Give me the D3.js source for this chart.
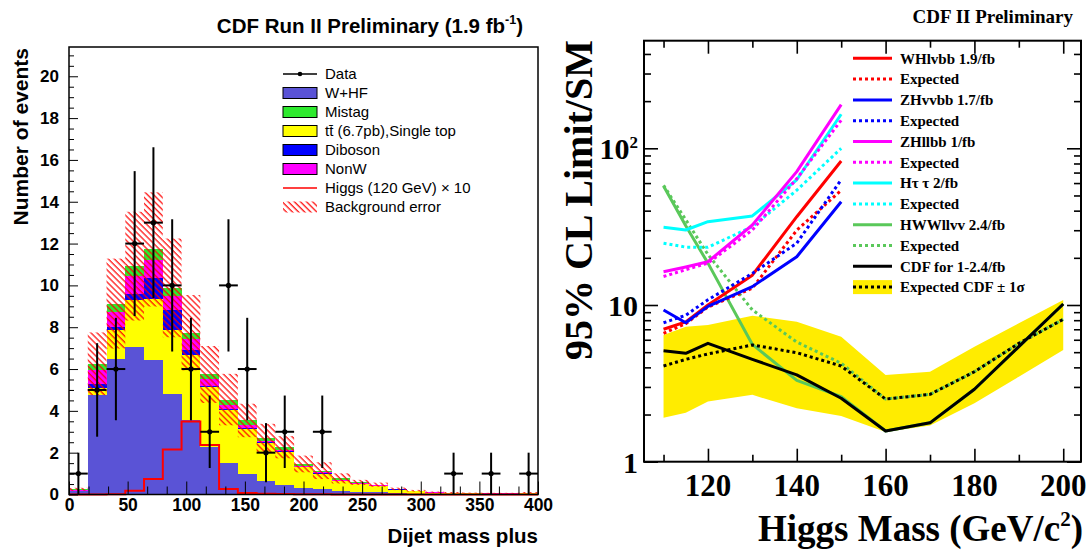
<!DOCTYPE html>
<html>
<head>
<meta charset="utf-8">
<script src="https://cdn.jsdelivr.net/npm/d3@7"></script>
<style>
  body { margin: 0; background: #fff; }
  svg { display: block; }
  .sans { font-family: "Liberation Sans", Arial, Helvetica, sans-serif; }
  .serif { font-family: "Liberation Serif", "Times New Roman", serif; }
</style>
</head>
<body>
<svg id="chart" width="1088" height="550"></svg>
<script>
// ---------------- Left panel: dijet mass distribution ----------------
const binWidth = 16;
const binLow = [0, 16, 32, 48, 64, 80, 96, 112, 128, 144, 160, 176, 192, 208, 224, 240, 256, 272, 288, 304, 320, 336, 352, 368, 384];

// stacked background contributions (events per bin)
const wHF      = [0.15, 4.78, 6.49, 7.05, 6.44, 4.82, 3.54, 2.26, 1.51, 0.98, 0.66, 0.47, 0.30, 0.26, 0.18, 0.10, 0.10, 0.05, 0.04, 0.03, 0.02, 0.02, 0.01, 0.01, 0.01];
const topPair  = [0.03, 0.32, 1.36, 2.24, 2.89, 3.06, 3.11, 2.88, 2.54, 2.16, 1.79, 1.55, 1.00, 0.74, 0.46, 0.40, 0.32, 0.17, 0.11, 0.05, 0.03, 0.03, 0.03, 0.03, 0.04];
const diboson  = [0.01, 0.20, 0.16, 0.28, 1.00, 0.93, 0.24, 0.06, 0.05, 0.04, 0.05, 0.04, 0.03, 0.02, 0.02, 0.02, 0.01, 0.03, 0.01, 0.01, 0.01, 0.01, 0.00, 0.00, 0.01];
const nonW     = [0.02, 0.63, 0.72, 0.87, 0.87, 0.67, 0.53, 0.30, 0.19, 0.15, 0.08, 0.07, 0.05, 0.04, 0.04, 0.03, 0.02, 0.01, 0.01, 0.01, 0.01, 0.00, 0.01, 0.01, 0.01];
const mistag   = [0.04, 0.32, 0.40, 0.48, 0.52, 0.40, 0.32, 0.24, 0.25, 0.21, 0.13, 0.13, 0.08, 0.08, 0.07, 0.03, 0.02, 0.01, 0.01, 0.01, 0.02, 0.01, 0.01, 0.01, 0.02];
const bkgError = [0.07, 1.50, 2.15, 2.60, 2.73, 2.36, 1.80, 1.36, 1.23, 0.80, 0.67, 0.53, 0.40, 0.40, 0.24, 0.12, 0.10, 0.06, 0.04, 0.03, 0.03, 0.02, 0.02, 0.02, 0.03];
const higgsX10 = [0, 0, 0.01, 0.18, 0.74, 2.15, 3.49, 2.37, 0.26, 0.07, 0.03, 0.02, 0.01, 0.01, 0, 0, 0, 0, 0, 0, 0, 0, 0, 0, 0];
const dataCounts = [1, 5, 6, 12, 13, 10, 6, 3, 10, 6, 2, 3, 0, 3, 0, 0, 0, 0, 0, 0, 1, 0, 1, 0, 1];

const leftXTicks = [0, 50, 100, 150, 200, 250, 300, 350, 400];
const leftYTicks = [0, 2, 4, 6, 8, 10, 12, 14, 16, 18, 20];

const stackKeys   = ["wHF", "topPair", "diboson", "nonW", "mistag"];
const stackColors = ["#5a53d6", "#ffff00", "#0000ff", "#ff00ff", "#2eea2e"];

// ---------------- Right panel: 95% CL limits ----------------
const lowMass   = [110, 115, 120, 130, 140, 150];
const whObs     = [7.0, 7.8, 10.0, 15.5, 36.6, 83];
const whExp     = [6.6, 7.6, 9.7, 12.8, 30.0, 54];
const zhvvObs   = [9.3, 7.7, 9.8, 13.1, 20.3, 45.6];
const zhvvExp   = [7.7, 8.6, 10.8, 15.9, 24.8, 63];
const zhllObs   = [16.3, 17.5, 18.9, 32.4, 71, 190];
const zhllExp   = [15.2, 16.8, 18.5, 30.1, 64, 151];
const httObs    = [31.3, 30.1, 34.0, 37.0, 63, 165];
const httExp    = [24.8, 23.4, 23.4, 31.6, 54, 100];

const fullMass  = [110, 115, 120, 130, 140, 150, 160, 170, 180, 190, 200];
const hwwObs    = [57.5, 32, 18.5, 5.6, 3.3, 2.6, 1.57, 1.77, 2.90, 5.42, 10.15];
const hwwExp    = [58, 35, 21, 9.3, 5.8, 4.25, 2.51, 2.69, 3.75, 5.69, 8.10];
const cdfObs    = [5.11, 4.92, 5.69, 4.50, 3.58, 2.54, 1.57, 1.77, 2.90, 5.42, 10.15];
const cdfExp    = [4.08, 4.50, 4.87, 5.56, 4.96, 4.08, 2.51, 2.69, 3.75, 5.69, 8.10];
const cdfExpLo  = [1.91, 2.05, 2.42, 2.67, 2.19, 1.96, 1.55, 1.70, 2.36, 3.49, 5.16];
const cdfExpHi  = [6.44, 7.27, 7.45, 8.55, 7.83, 6.28, 3.58, 3.75, 5.42, 7.64, 10.76];

const rightXTicks = [120, 140, 160, 180, 200];
const rightXMinor = [110, 130, 150, 170, 190];
const rightYTicks = [1, 10, 100];

// =====================================================================
const svg = d3.select("#chart");
const defs = svg.append("defs");

// red "\\\" hatching for the background uncertainty
const hatch = defs.append("pattern")
  .attr("id", "bkgHatch")
  .attr("patternUnits", "userSpaceOnUse")
  .attr("width", 4.3).attr("height", 4.3)
  .attr("patternTransform", "rotate(-45)");
hatch.append("line")
  .attr("x1", 1).attr("y1", 0).attr("x2", 1).attr("y2", 4.3)
  .attr("stroke", "#ff0000").attr("stroke-width", 1.2);

// ---------------- left panel ----------------
const xL = d3.scaleLinear().domain([0, 400]).range([69, 538]);
const yL = d3.scaleLinear().domain([0, 21.4]).range([494.5, 47]);
const left = svg.append("g").attr("class", "sans");

const rows = binLow.map((lo, i) => ({
  lo, wHF: wHF[i], topPair: topPair[i], diboson: diboson[i], nonW: nonW[i], mistag: mistag[i]
}));
const stacked = d3.stack().keys(stackKeys)(rows);

stacked.forEach((layer, k) => {
  left.append("g").attr("shape-rendering", "crispEdges")
    .selectAll("rect").data(layer).join("rect")
    .attr("x", d => xL(d.data.lo))
    .attr("width", d => xL(d.data.lo + binWidth) - xL(d.data.lo))
    .attr("y", d => yL(d[1]))
    .attr("height", d => Math.max(0, yL(d[0]) - yL(d[1])))
    .attr("fill", stackColors[k]);
});

// background error band
const totals = stacked[stacked.length - 1].map(d => d[1]);
left.append("g").selectAll("rect").data(binLow).join("rect")
  .attr("x", (lo) => xL(lo))
  .attr("width", lo => xL(lo + binWidth) - xL(lo))
  .attr("y", (lo, i) => yL(totals[i] + bkgError[i]))
  .attr("height", (lo, i) => yL(Math.max(0, totals[i] - bkgError[i])) - yL(totals[i] + bkgError[i]))
  .attr("fill", "url(#bkgHatch)");

// Higgs signal x10 as a step line
const higgsPts = binLow.map((lo, i) => [lo, higgsX10[i]]);
higgsPts.push([binLow[binLow.length - 1] + binWidth, higgsX10[higgsX10.length - 1]]);
left.append("path")
  .attr("d", d3.line().x(d => xL(d[0])).y(d => yL(d[1])).curve(d3.curveStepAfter)(higgsPts))
  .attr("fill", "none").attr("stroke", "#ff0000").attr("stroke-width", 2);

// data points with sqrt(N) errors
const dataRows = binLow.map((lo, i) => ({ lo, n: dataCounts[i] })).filter(d => d.n > 0);
const dataG = left.append("g").attr("stroke", "#000").attr("stroke-width", 2);
dataG.selectAll("line.v").data(dataRows).join("line").attr("class", "v")
  .attr("x1", d => xL(d.lo + binWidth / 2)).attr("x2", d => xL(d.lo + binWidth / 2))
  .attr("y1", d => yL(d.n + Math.sqrt(d.n))).attr("y2", d => yL(Math.max(0, d.n - Math.sqrt(d.n))));
dataG.selectAll("line.h").data(dataRows).join("line").attr("class", "h")
  .attr("x1", d => xL(d.lo)).attr("x2", d => xL(d.lo + binWidth))
  .attr("y1", d => yL(d.n)).attr("y2", d => yL(d.n));
left.append("g").selectAll("circle").data(dataRows).join("circle")
  .attr("cx", d => xL(d.lo + binWidth / 2)).attr("cy", d => yL(d.n)).attr("r", 2.6).attr("fill", "#000");

// axes (ticks point inwards, ROOT style)
const yMinorL = d3.range(0, 21.01, 0.5).filter(v => v % 2 !== 0);
left.append("g").attr("transform", `translate(${xL(0)},0)`)
  .call(d3.axisLeft(yL).tickValues(yMinorL).tickSize(-5).tickFormat(""))
  .call(g => g.select(".domain").remove());
left.append("g").attr("transform", `translate(${xL(0)},0)`)
  .call(d3.axisLeft(yL).tickValues(leftYTicks).tickSize(-9).tickPadding(10).tickFormat(d3.format("d")))
  .call(g => g.select(".domain").remove())
  .call(g => g.selectAll("text").attr("font-size", 17).attr("font-weight", "bold").attr("font-family", null));

const xMinorL = d3.range(0, 400.01, 50 / 3).filter((v, i) => i % 3 !== 0);
left.append("g").attr("transform", `translate(0,${yL(0)})`)
  .call(d3.axisBottom(xL).tickValues(xMinorL).tickSize(-8).tickFormat(""))
  .call(g => g.select(".domain").remove());
left.append("g").attr("transform", `translate(0,${yL(0)})`)
  .call(d3.axisBottom(xL).tickValues(leftXTicks).tickSize(-13).tickPadding(4).tickFormat(d3.format("d")))
  .call(g => g.select(".domain").remove())
  .call(g => g.selectAll("text").attr("font-size", 17.5).attr("font-weight", "bold").attr("font-family", null));

left.append("rect")
  .attr("x", xL(0)).attr("y", yL(21.4)).attr("width", xL(400) - xL(0)).attr("height", yL(0) - yL(21.4))
  .attr("fill", "none").attr("stroke", "#000").attr("stroke-width", 1.5);

// titles
const titleL = left.append("text").attr("x", 523).attr("y", 33).attr("text-anchor", "end")
  .attr("font-size", 20.5).attr("font-weight", "bold");
titleL.append("tspan").text("CDF Run II Preliminary (1.9 fb");
titleL.append("tspan").attr("font-size", 12.5).attr("dy", -9).text("-1");
titleL.append("tspan").attr("dy", 9).text(")");

left.append("text")
  .attr("transform", "translate(28,48) rotate(-90)")
  .attr("text-anchor", "end").attr("font-size", 21).attr("font-weight", "bold")
  .text("Number of events");

left.append("text").attr("x", 538).attr("y", 543).attr("text-anchor", "end")
  .attr("font-size", 20.5).attr("font-weight", "bold").text("Dijet mass plus");

// legend
const legL = left.append("g").attr("font-size", 15);
const legItems = [
  { kind: "data", label: "Data" },
  { kind: "box", fill: stackColors[0], label: "W+HF" },
  { kind: "box", fill: stackColors[4], label: "Mistag" },
  { kind: "box", fill: stackColors[1], label: "t\u0074\u0304 (6.7pb),Single top" },
  { kind: "box", fill: stackColors[2], label: "Diboson" },
  { kind: "box", fill: stackColors[3], label: "NonW" },
  { kind: "line", label: "Higgs (120 GeV) \u00d7 10" },
  { kind: "hatch", label: "Background error" }
];
legItems.forEach((it, i) => {
  const cy = 74 + i * 19;
  const g = legL.append("g");
  if (it.kind === "data") {
    g.append("line").attr("x1", 283).attr("x2", 317).attr("y1", cy).attr("y2", cy).attr("stroke", "#000").attr("stroke-width", 1.5);
    g.append("circle").attr("cx", 300).attr("cy", cy).attr("r", 2.3).attr("fill", "#000");
  } else if (it.kind === "box") {
    g.append("rect").attr("x", 283).attr("y", cy - 5.5).attr("width", 34).attr("height", 11)
      .attr("fill", it.fill).attr("stroke", "#000").attr("stroke-width", 1);
  } else if (it.kind === "line") {
    g.append("line").attr("x1", 283).attr("x2", 317).attr("y1", cy).attr("y2", cy).attr("stroke", "#ff0000").attr("stroke-width", 1.5);
  } else {
    g.append("rect").attr("x", 283).attr("y", cy - 5.5).attr("width", 34).attr("height", 11).attr("fill", "url(#bkgHatch)");
  }
  g.append("text").attr("x", 325).attr("y", cy).attr("dy", "0.36em").text(it.label);
});

// ---------------- right panel ----------------
const xR = d3.scaleLinear().domain([105.6, 204]).range([644, 1081]);
const yR = d3.scaleLog().domain([1, 486]).range([461.7, 40.7]);
const right = svg.append("g").attr("class", "serif");

// expected +-1 sigma band
right.append("path")
  .datum(fullMass.map((m, i) => ({ m, lo: cdfExpLo[i], hi: cdfExpHi[i] })))
  .attr("d", d3.area().x(d => xR(d.m)).y0(d => yR(d.lo)).y1(d => yR(d.hi)))
  .attr("fill", "#ffec00");

const lineGen = d3.line().x(d => xR(d[0])).y(d => yR(d[1]));
const curves = [
  { mass: fullMass, vals: hwwObs,  color: "#5ac85a", dotted: false },
  { mass: fullMass, vals: hwwExp,  color: "#5ac85a", dotted: true },
  { mass: lowMass,  vals: httObs,  color: "#00ffff", dotted: false },
  { mass: lowMass,  vals: httExp,  color: "#00ffff", dotted: true },
  { mass: lowMass,  vals: zhllObs, color: "#ff00ff", dotted: false },
  { mass: lowMass,  vals: zhllExp, color: "#ff00ff", dotted: true },
  { mass: lowMass,  vals: whObs,   color: "#ff0000", dotted: false },
  { mass: lowMass,  vals: whExp,   color: "#ff0000", dotted: true },
  { mass: lowMass,  vals: zhvvObs, color: "#0000ff", dotted: false },
  { mass: lowMass,  vals: zhvvExp, color: "#0000ff", dotted: true },
  { mass: fullMass, vals: cdfExp,  color: "#000000", dotted: true },
  { mass: fullMass, vals: cdfObs,  color: "#000000", dotted: false }
];
curves.forEach(c => {
  right.append("path")
    .attr("d", lineGen(c.mass.map((m, i) => [m, c.vals[i]])))
    .attr("fill", "none").attr("stroke", c.color).attr("stroke-width", 3)
    .attr("stroke-dasharray", c.dotted ? "3,3" : null)
    .attr("stroke-linejoin", "round");
});

// axes with ticks on all four sides
const yMinorR = [2, 3, 4, 5, 6, 7, 8, 9, 20, 30, 40, 50, 60, 70, 80, 90, 200, 300, 400];
[["axisBottom", 461.7], ["axisTop", 40.7]].forEach(([fn, ty]) => {
  right.append("g").attr("transform", `translate(0,${ty})`)
    .call(d3[fn](xR).tickValues(rightXMinor).tickSize(-7).tickFormat(""))
    .call(g => g.select(".domain").remove());
  right.append("g").attr("transform", `translate(0,${ty})`)
    .call(d3[fn](xR).tickValues(rightXTicks).tickSize(-13).tickFormat(""))
    .call(g => g.select(".domain").remove());
});
[["axisLeft", 644], ["axisRight", 1081]].forEach(([fn, tx]) => {
  right.append("g").attr("transform", `translate(${tx},0)`)
    .call(d3[fn](yR).tickValues(yMinorR).tickSize(-7).tickFormat(""))
    .call(g => g.select(".domain").remove());
  right.append("g").attr("transform", `translate(${tx},0)`)
    .call(d3[fn](yR).tickValues(rightYTicks).tickSize(-14).tickFormat(""))
    .call(g => g.select(".domain").remove());
});
right.selectAll(".tick line").attr("stroke-width", 1.6);

right.append("rect")
  .attr("x", 644).attr("y", 40.7).attr("width", 1081 - 644).attr("height", 461.7 - 40.7)
  .attr("fill", "none").attr("stroke", "#000").attr("stroke-width", 2);

// tick labels
right.append("g").selectAll("text").data(rightXTicks).join("text")
  .attr("x", d => xR(d)).attr("y", 496).attr("text-anchor", "middle")
  .attr("font-size", 31).attr("font-weight", "bold").text(d => d);
const yLab = right.append("g").attr("font-size", 30).attr("font-weight", "bold");
rightYTicks.forEach(v => {
  const t = yLab.append("text").attr("x", 638).attr("y", yR(v)).attr("dy", "0.36em").attr("text-anchor", "end");
  if (v >= 100) {
    t.append("tspan").text("10");
    t.append("tspan").attr("font-size", 17).attr("dy", -11).text(String(Math.round(Math.log10(v))));
  } else {
    t.text(v);
  }
});

right.append("text").attr("x", 1073).attr("y", 23).attr("text-anchor", "end")
  .attr("font-size", 19).attr("font-weight", "bold").text("CDF II Preliminary");

right.append("text")
  .attr("transform", "translate(592,40) rotate(-90)")
  .attr("text-anchor", "end").attr("font-size", 40).attr("font-weight", "bold")
  .text("95% CL Limit/SM");

const xTitle = right.append("text").attr("x", 1083).attr("y", 541).attr("text-anchor", "end")
  .attr("font-size", 37).attr("font-weight", "bold");
xTitle.append("tspan").text("Higgs Mass (GeV/c");
xTitle.append("tspan").attr("font-size", 21).attr("dy", -15).text("2");
xTitle.append("tspan").attr("dy", 15).text(")");

// legend
const legR = right.append("g").attr("font-size", 15).attr("font-weight", "bold");
const legRItems = [
  { label: "WHlvbb 1.9/fb", color: "#ff0000", dotted: false },
  { label: "Expected", color: "#ff0000", dotted: true },
  { label: "ZHvvbb 1.7/fb", color: "#0000ff", dotted: false },
  { label: "Expected", color: "#0000ff", dotted: true },
  { label: "ZHllbb 1/fb", color: "#ff00ff", dotted: false },
  { label: "Expected", color: "#ff00ff", dotted: true },
  { label: "H\u03c4 \u03c4 2/fb", color: "#00ffff", dotted: false },
  { label: "Expected", color: "#00ffff", dotted: true },
  { label: "HWWllvv 2.4/fb", color: "#5ac85a", dotted: false },
  { label: "Expected", color: "#5ac85a", dotted: true },
  { label: "CDF for 1-2.4/fb", color: "#000000", dotted: false },
  { label: "Expected CDF \u00b1 1\u03c3", color: "#000000", dotted: true, band: true }
];
legRItems.forEach((it, i) => {
  const cy = 58.3 + i * 20.8;
  if (it.band) {
    legR.append("rect").attr("x", 853).attr("y", cy - 7).attr("width", 39).attr("height", 14).attr("fill", "#ffec00");
  }
  legR.append("line").attr("x1", 853).attr("x2", 892).attr("y1", cy).attr("y2", cy)
    .attr("stroke", it.color).attr("stroke-width", 3).attr("stroke-dasharray", it.dotted ? "3,3" : null);
  legR.append("text").attr("x", 900).attr("y", cy).attr("dy", "0.35em").text(it.label);
});
</script>
</body>
</html>
